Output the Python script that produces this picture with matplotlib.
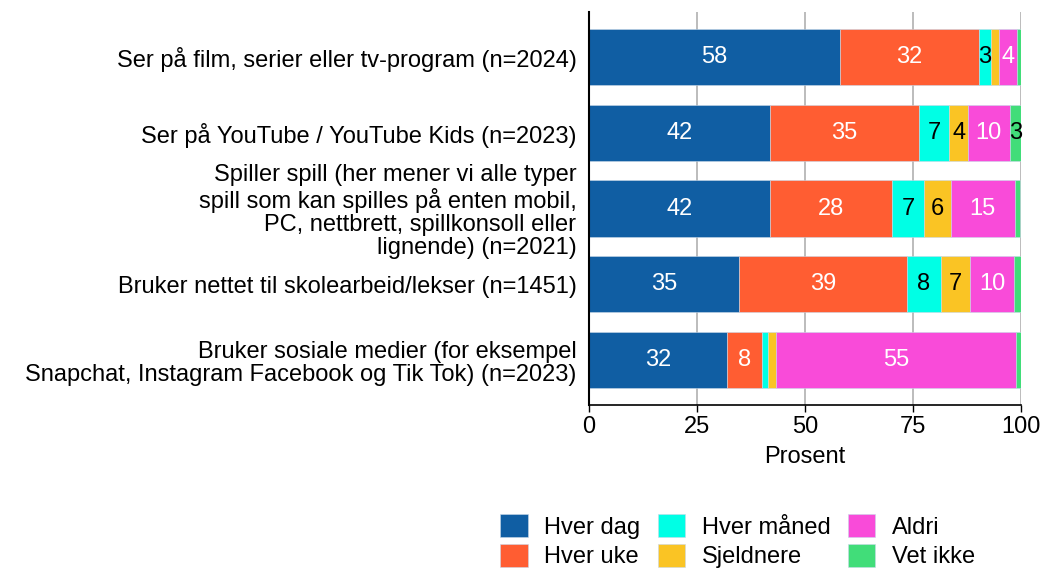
import matplotlib
matplotlib.use("Agg")
import matplotlib.pyplot as plt
import numpy as np

plt.rcParams["font.family"] = ["Liberation Sans", "DejaVu Sans"]

categories = [
    "Ser på film, serier eller tv-program (n=2024)",
    "Ser på YouTube / YouTube Kids (n=2023)",
    "Spiller spill (her mener vi alle typer\nspill som kan spilles på enten mobil,\nPC, nettbrett, spillkonsoll eller\nlignende) (n=2021)",
    "Bruker nettet til skolearbeid/lekser (n=1451)",
    "Bruker sosiale medier (for eksempel\nSnapchat, Instagram Facebook og Tik Tok) (n=2023)",
]

series_names = ["Hver dag", "Hver uke", "Hver måned", "Sjeldnere", "Aldri", "Vet ikke"]
hver_dag = [58.0, 41.8, 41.8, 34.8, 31.9]
hver_uke = [32.2, 34.6, 28.4, 38.7, 8.1]
hver_maned = [2.8, 7.0, 7.4, 7.9, 1.5]
sjeldnere = [1.9, 4.3, 6.1, 6.9, 1.9]
aldri = [4.2, 9.7, 14.8, 10.1, 55.4]
vet_ikke = [0.9, 2.6, 1.3, 1.6, 1.2]

colors = ["#105EA3", "#FF5D32", "#00FFE5", "#FAC424", "#F94BD9", "#41DD79"]
text_colors = ["white", "white", "black", "black", "white", "black"]

series = [hver_dag, hver_uke, hver_maned, sjeldnere, aldri, vet_ikke]

FS = 17

fig = plt.figure(figsize=(10.42, 5.71), dpi=100)
ax = fig.add_axes([589 / 1042, 1 - 405 / 571, 432 / 1042, 393 / 571])

y = np.arange(len(categories))
left = np.zeros(len(categories))
handles = []
for name, vals, col, tcol in zip(series_names, series, colors, text_colors):
    vals = np.array(vals)
    bars = ax.barh(y, vals, left=left, height=0.74, color=col,
                   edgecolor="#c8d8e8", linewidth=0.4, label=name, zorder=2)
    handles.append(bars)
    for yi, l, v in zip(y, left, vals):
        if v >= 2.5:
            ax.text(l + v / 2, yi, f"{v:.0f}", ha="center", va="center",
                    color=tcol, fontsize=FS, zorder=3)
    left += vals

ax.set_xlim(0, 100)
ax.set_ylim(len(categories) - 0.41, -0.59)
ax.set_yticks(y)
ax.set_yticklabels(categories, fontsize=FS, linespacing=1.08)
ax.tick_params(axis="y", length=0, pad=9)
ax.set_xticks([0, 25, 50, 75, 100])
ax.tick_params(axis="x", labelsize=FS, length=5, width=1, color="black", pad=3)
ax.set_xlabel("Prosent", fontsize=FS, labelpad=6)
ax.grid(axis="x", color="#b0b0b0", linewidth=1.2, zorder=0)
ax.set_axisbelow(True)
for s in ["top", "right"]:
    ax.spines[s].set_visible(False)
ax.spines["left"].set_linewidth(1.5)
ax.spines["bottom"].set_linewidth(1.2)

fig.legend(handles=handles, labels=series_names, ncol=3, loc="lower left",
           bbox_to_anchor=(491 / 1042, -0.012), frameon=False, fontsize=FS,
           handlelength=1.15, handleheight=1.1, handletextpad=0.7,
           columnspacing=0.75, labelspacing=0.22, borderaxespad=0)

fig.savefig("out.png", dpi=100)
